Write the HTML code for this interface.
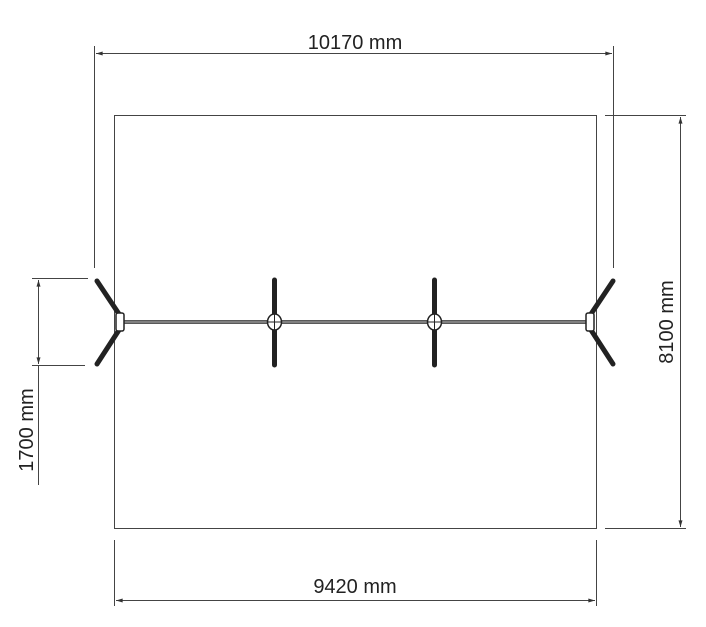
<!DOCTYPE html>
<html><head><style>html,body{margin:0;padding:0;background:#fff}svg{display:block}text{font-family:"Liberation Sans",sans-serif;fill:#222}</style></head>
<body>
<svg width="706" height="627" viewBox="0 0 706 627" xmlns="http://www.w3.org/2000/svg">
<defs><marker id="a" viewBox="0 0 10 6" refX="10" refY="3" markerWidth="8" markerHeight="4" orient="auto-start-reverse"><path d="M0,0L10,3L0,6z" fill="#333"/></marker></defs>
<g stroke="#444" stroke-width="1" fill="none">
<rect x="114.5" y="115.5" width="482" height="413"/>
<line x1="94.5" y1="46" x2="94.5" y2="268"/>
<line x1="613.5" y1="46" x2="613.5" y2="268"/>
<line x1="96" y1="53.5" x2="612" y2="53.5" marker-start="url(#a)" marker-end="url(#a)"/>
<line x1="605" y1="115.5" x2="686" y2="115.5"/>
<line x1="605" y1="528.5" x2="686" y2="528.5"/>
<line x1="680.5" y1="117" x2="680.5" y2="527" marker-start="url(#a)" marker-end="url(#a)"/>
<line x1="114.5" y1="540" x2="114.5" y2="606"/>
<line x1="596.5" y1="540" x2="596.5" y2="606"/>
<line x1="116" y1="600.5" x2="595" y2="600.5" marker-start="url(#a)" marker-end="url(#a)"/>
<line x1="32" y1="278.5" x2="88" y2="278.5"/>
<line x1="32" y1="365.5" x2="85" y2="365.5"/>
<line x1="38.5" y1="280" x2="38.5" y2="364" marker-start="url(#a)" marker-end="url(#a)"/>
<line x1="38.5" y1="365" x2="38.5" y2="485"/>
</g>
<line x1="120" y1="322" x2="591" y2="322" stroke="#222" stroke-width="3.5"/>
<line x1="120" y1="322" x2="591" y2="322" stroke="#ddd" stroke-width="1"/>
<g stroke="#222" stroke-width="5" stroke-linecap="round" fill="none">
<line x1="97" y1="281" x2="119" y2="314"/>
<line x1="97" y1="364" x2="119" y2="330"/>
<line x1="613" y1="281" x2="591" y2="314"/>
<line x1="613" y1="364" x2="591" y2="330"/>
<line x1="274.5" y1="280" x2="274.5" y2="365"/>
<line x1="434.5" y1="280" x2="434.5" y2="365"/>
</g>
<g stroke="#222" stroke-width="1.5" fill="#fff">
<rect x="116" y="313" width="8" height="18" rx="2"/>
<rect x="586" y="313" width="8" height="18" rx="2"/>
<ellipse cx="274.5" cy="322" rx="7" ry="8"/>
<ellipse cx="434.5" cy="322" rx="7" ry="8"/>
</g>
<g stroke="#222" stroke-width="1"><line x1="267" y1="322" x2="282" y2="322"/><line x1="274.5" y1="314" x2="274.5" y2="330"/><line x1="427" y1="322" x2="442" y2="322"/><line x1="434.5" y1="314" x2="434.5" y2="330"/></g>
<text x="355" y="49" font-size="20" text-anchor="middle">10170 mm</text>
<text x="355" y="593" font-size="20" text-anchor="middle">9420 mm</text>
<text transform="translate(673,322) rotate(-90)" font-size="20" text-anchor="middle">8100 mm</text>
<text transform="translate(33,430) rotate(-90)" font-size="20" text-anchor="middle">1700 mm</text>
</svg>
</body></html>
